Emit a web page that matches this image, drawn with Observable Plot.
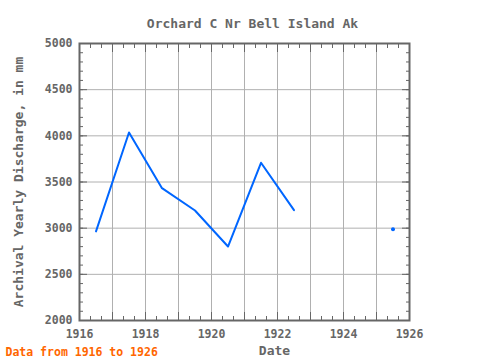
<!DOCTYPE html>
<html><head><meta charset="utf-8">
<script src="https://cdn.jsdelivr.net/npm/d3@7"></script>
<script src="https://cdn.jsdelivr.net/npm/@observablehq/plot@0.6"></script>
<style>body{margin:0;background:#fff}</style>
</head><body><div id="chart"></div>
<script>
const years = [1916.5, 1917.5, 1918.5, 1919.5, 1920.5, 1921.5, 1922.5, 1923.5, 1924.5, 1925.5];
const discharge = [2965, 4036, 3433, 3191, 2801, 3708, 3195, null, null, 2988];
const xTicks = [1916, 1918, 1920, 1922, 1924, 1926];
const yTicks = [2000, 2500, 3000, 3500, 4000, 4500, 5000];
const title = "Orchard C Nr Bell Island Ak";
const xLabel = "Date";
const yLabel = "Archival Yearly Discharge, in mm";
const caption = "Data from 1916 to 1926";

const data = years.map((y, i) => ({year: y, value: discharge[i]}));
const isolated = data.filter((d, i) => d.value != null &&
  (i === 0 || data[i-1].value == null) && (i === data.length-1 || data[i+1].value == null));

const yearGrid = d3.range(1916, 1927, 1);
const xMinor = d3.range(0, 31).map(i => 1916 + i/3);
const yMinor = d3.range(2000, 5001, 100);
const gray = "#666";
const font = "DejaVu Sans Mono, monospace";

const chart = Plot.plot({
  width: 480, height: 360,
  marginLeft: 79, marginRight: 71, marginTop: 43, marginBottom: 40,
  style: {fontFamily: font, background: "#fff"},
  x: {domain: [1916, 1926]},
  y: {domain: [2000, 5000]},
  marks: [
    Plot.gridX(yearGrid, {stroke: "#b0b0b0", strokeOpacity: 1}),
    Plot.gridY(yTicks, {stroke: "#b0b0b0", strokeOpacity: 1}),
    Plot.axisX(xMinor, {anchor: "bottom", tickSize: -4, text: null, stroke: gray, label: null}),
    Plot.axisX(xMinor, {anchor: "top", tickSize: -4, text: null, stroke: gray, label: null}),
    Plot.axisX(yearGrid, {anchor: "bottom", tickSize: -8, text: null, stroke: gray, label: null}),
    Plot.axisX(yearGrid, {anchor: "top", tickSize: -8, text: null, stroke: gray, label: null}),
    Plot.axisY(yMinor, {anchor: "left", tickSize: -4, text: null, stroke: gray, label: null}),
    Plot.axisY(yMinor, {anchor: "right", tickSize: -4, text: null, stroke: gray, label: null}),
    Plot.axisY(yTicks, {anchor: "left", tickSize: -8, text: null, stroke: gray, label: null}),
    Plot.axisY(yTicks, {anchor: "right", tickSize: -8, text: null, stroke: gray, label: null}),
    Plot.axisX(xTicks, {anchor: "bottom", tickSize: 0, tickPadding: 9, tickFormat: d => String(d),
      fill: gray, fontSize: 11.5, fontWeight: "bold", label: null}),
    Plot.axisY(yTicks, {anchor: "left", tickSize: 0, tickPadding: 7, tickFormat: d => String(d),
      fill: gray, fontSize: 11.5, fontWeight: "bold", label: null}),
    Plot.frame({stroke: gray, strokeWidth: 2}),
    Plot.line(data, {x: "year", y: "value", stroke: "#0066ff", strokeWidth: 2}),
    Plot.dot(isolated, {x: "year", y: "value", fill: "#0066ff", r: 2}),
    Plot.text([title], {frameAnchor: "top", dy: -25, dx: 8, text: d => d, fill: gray, fontSize: 13, fontWeight: "bold"}),
    Plot.text([xLabel], {frameAnchor: "bottom", dy: 34, dx: 30, text: d => d, fill: gray, fontSize: 13, fontWeight: "bold"}),
    Plot.text([yLabel], {frameAnchor: "left", dx: -61, rotate: -90, textAnchor: "middle", text: d => d, fill: gray, fontSize: 13, fontWeight: "bold"}),
    Plot.text([caption], {frameAnchor: "bottom-left", dx: -74, dy: 35, textAnchor: "start", text: d => d, fill: "#ff6600", fontSize: 11.5, fontWeight: "bold"})
  ]
});
document.getElementById("chart").appendChild(chart);
</script>
</body></html>
